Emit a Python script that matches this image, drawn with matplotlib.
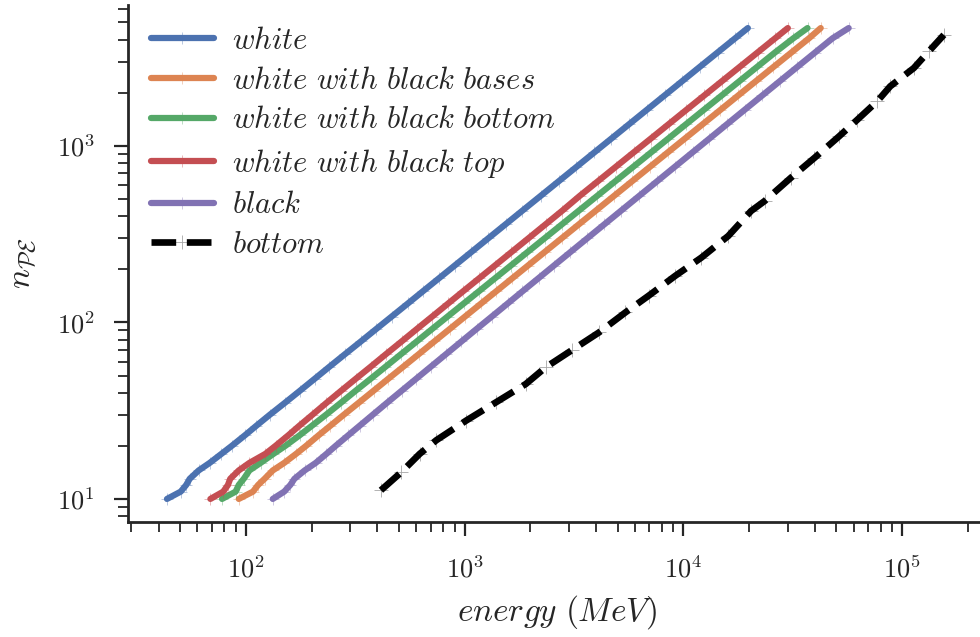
import matplotlib
matplotlib.use("Agg")
import matplotlib.pyplot as plt
import seaborn as sns

# number of photo-electrons (shared by the coloured curves)
n_pe = [10, 11, 12, 13, 14.5, 16, 18, 20, 23, 26, 30, 35, 41, 48, 56, 66, 78, 92,
        108, 128, 150, 178, 210, 250, 300, 360, 430, 520, 630, 760, 920, 1100,
        1330, 1600, 1930, 2330, 2800, 3380, 4070, 4650]

# energy (MeV) needed for each n_pe value
e_white = [43.7, 50.5, 53.5, 55.5, 61, 68.5, 77.5, 86.5, 99.5, 112, 129, 151, 177,
           207, 241, 284, 336, 396, 465, 551, 645, 765, 902, 1073, 1286, 1542,
           1840, 2224, 2692, 3245, 3924, 4688, 5662, 6805, 8200, 9890, 11870,
           14320, 17240, 19700]
e_bases = [93, 108, 114, 122, 133, 150, 170, 189, 216, 244, 281, 328, 384, 449,
           524, 617, 728, 858, 1006, 1191, 1395, 1654, 1950, 2320, 2782, 3336,
           3983, 4812, 5826, 7025, 8500, 10160, 12280, 14770, 17800, 21480, 25800,
           31150, 37500, 42400]
e_bottom = [78, 90, 93, 98, 104, 117, 134, 152, 177, 201, 233, 272, 318, 373, 435,
            512, 605, 713, 837, 992, 1163, 1380, 1628, 1938, 2326, 2791, 3333,
            4031, 4884, 5891, 7132, 8527, 10310, 12400, 14960, 18060, 21700,
            26200, 31800, 36900]
e_top = [69, 79, 83, 85, 93, 104, 123, 137, 157, 176, 202, 234, 273, 319, 372, 437,
         516, 607, 712, 842, 985, 1168, 1377, 1637, 1962, 2350, 2800, 3355, 4065,
         4903, 5935, 7100, 8580, 10320, 12450, 15030, 18065, 21810, 26260, 30000]
e_black = [133, 150, 160, 167, 186, 209, 234, 258, 295, 332, 381, 442, 516, 602,
           700, 822, 968, 1138, 1333, 1575, 1840, 2178, 2563, 3043, 3643, 4360,
           5197, 6271, 7580, 9125, 11020, 13150, 15860, 19040, 22920, 27620,
           33140, 39950, 48040, 56900]

# "bottom" curve has its own sampling
e_bot = [415, 515, 624, 743, 1018, 1394, 1906, 2350, 3097, 4112, 5433, 6934, 9180,
         12080, 16030, 20380, 23510, 30970, 39700, 51540, 62400, 76900, 88100,
         112900, 132200, 154900]
n_bot = [11.2, 14.2, 18.0, 21.5, 27.8, 35.3, 44.8, 55.7, 69.7, 87.7, 113.9, 141.6,
         183.6, 232.8, 308.8, 427.7, 487.3, 659.6, 855, 1135, 1409, 1790, 2175,
         2760, 3430, 4255]

sns.set_theme(style="ticks", palette="deep")
plt.rcParams["font.family"] = "serif"
plt.rcParams["font.serif"] = ["cmr10", "DejaVu Serif"]
plt.rcParams["mathtext.fontset"] = "cm"
plt.rcParams["axes.formatter.use_mathtext"] = True

pal = sns.color_palette("deep")

fig = plt.figure(figsize=(9.8, 6.37), dpi=100)
ax = fig.add_axes([0.1306, 0.1805, 0.875, 0.812])

curves = [
    (e_white, r"$white$", pal[0]),
    (e_bases, r"$white\ with\ black\ bases$", pal[1]),
    (e_bottom, r"$white\ with\ black\ bottom$", pal[2]),
    (e_top, r"$white\ with\ black\ top$", pal[3]),
    (e_black, r"$black$", pal[4]),
]
for e, lab, c in curves:
    ax.plot(e, n_pe, color=c, lw=4.5, marker="+", ms=9, mew=0.6,
            mec=(*c, 0.45), label=lab, solid_capstyle="round")

ax.plot(e_bot, n_bot, color="black", lw=4.8, ls="--", marker="+", ms=10,
        mew=0.6, mec=(0, 0, 0, 0.35), label=r"$bottom$")

ax.set_xscale("log")
ax.set_yscale("log")
ax.set_xlim(29, 240000)
ax.set_ylim(7.4, 6300)

ax.set_xlabel(r"$energy\ (MeV)$", fontsize=24, labelpad=8)
ax.set_ylabel(r"$n_{\mathcal{PE}}$", fontsize=24, labelpad=13)

ax.tick_params(axis="both", which="major", length=10, width=1.6, labelsize=19,
               pad=14, color="#262626")
ax.tick_params(axis="both", which="minor", length=7, width=1.3, color="#262626")
for s in ["left", "bottom"]:
    ax.spines[s].set_linewidth(2)
sns.despine(ax=ax)

ax.legend(loc="upper left", frameon=False, fontsize=22, handlelength=2.05,
          handletextpad=0.62, labelspacing=0.4, borderaxespad=0.35)

fig.savefig("out.png", dpi=100)
